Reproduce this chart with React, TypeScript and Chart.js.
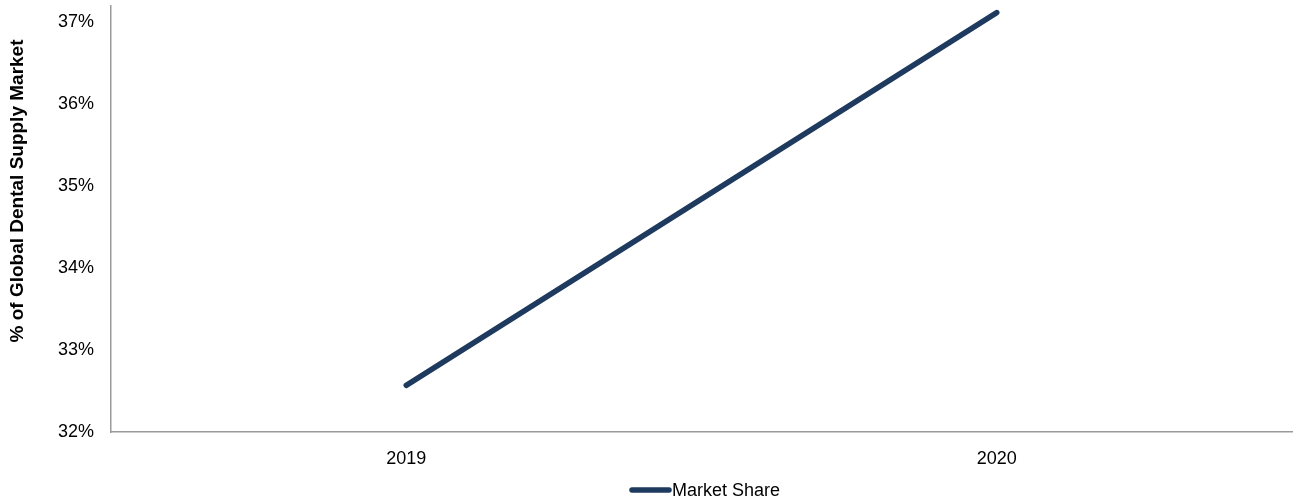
import React, { useEffect, useRef } from "react";
import { Chart, registerables } from "chart.js";

Chart.register(...registerables);

const categories = ["2019", "2020"];
const marketShare = [32.57, 37.12];
const seriesLabel = "Market Share";
const yTitle = "% of Global Dental Supply Market";
const yTickValues = [32, 33, 34, 35, 36, 37];
const yMin = 32;
const yMax = 37.2;

const LINE_COLOR = "#1F3A5F";
const AXIS_COLOR = "#9a9a9a";
const FONT = "'Liberation Sans', Arial, sans-serif";

const customPlugin = {
  id: "customDecor",
  afterDraw(chart: any) {
    const ctx = chart.ctx;
    ctx.save();
    // y-axis title
    ctx.translate(18, 191);
    ctx.rotate(-Math.PI / 2);
    ctx.font = `bold 19px ${FONT}`;
    ctx.fillStyle = "#000";
    ctx.textAlign = "center";
    ctx.textBaseline = "middle";
    ctx.fillText(yTitle, 0, 0);
    ctx.restore();

    // legend
    ctx.save();
    const ly = 490;
    ctx.strokeStyle = LINE_COLOR;
    ctx.lineWidth = 5.5;
    ctx.lineCap = "round";
    ctx.beginPath();
    ctx.moveTo(632, ly);
    ctx.lineTo(669, ly);
    ctx.stroke();
    ctx.font = `18px ${FONT}`;
    ctx.fillStyle = "#000";
    ctx.textAlign = "left";
    ctx.textBaseline = "middle";
    ctx.fillText(seriesLabel, 672, ly + 1);
    ctx.restore();
  },
};

export default function App() {
  const ref = useRef<HTMLCanvasElement>(null);
  useEffect(() => {
    if (!ref.current) return;
    const chart = new Chart(ref.current, {
      type: "line",
      data: {
        labels: categories,
        datasets: [
          {
            label: seriesLabel,
            data: marketShare,
            borderColor: LINE_COLOR,
            backgroundColor: LINE_COLOR,
            borderWidth: 5.5,
            borderCapStyle: "round",
            pointRadius: 0,
            tension: 0,
          },
        ],
      },
      options: {
        responsive: false,
        animation: false,
        layout: { padding: { left: 0, top: 6, right: 1, bottom: 29 }, autoPadding: false },
        plugins: {
          legend: { display: false },
          tooltip: { enabled: false },
        },
        scales: {
          x: {
            type: "category",
            offset: true,
            grid: { display: false, drawTicks: false },
            border: { display: true, color: AXIS_COLOR, width: 1.5 },
            ticks: {
              color: "#000",
              font: { family: FONT, size: 18 },
              padding: 16,
              maxRotation: 0,
            },
            afterFit(scale: any) {
              scale.height = 40;
              scale.paddingLeft = 0;
              scale.paddingRight = 0;
            },
          },
          y: {
            min: yMin,
            max: yMax,
            grid: { display: false, drawTicks: false },
            border: { display: true, color: AXIS_COLOR, width: 1.5 },
            ticks: {
              color: "#000",
              font: { family: FONT, size: 18 },
              padding: 17,
              callback: (v: any) => `${Math.round(Number(v))}%`,
            },
            afterBuildTicks(scale: any) {
              scale.ticks = yTickValues.map((v) => ({ value: v }));
            },
            afterFit(scale: any) {
              scale.width = 111;
              scale.paddingTop = 0;
              scale.paddingBottom = 0;
            },
          },
        },
      },
      plugins: [customPlugin],
    });
    return () => chart.destroy();
  }, []);
  return (
    <div style={{ position: "fixed", left: 0, top: 0, width: 1293, height: 501, background: "#fff" }}>
      <canvas ref={ref} width={1293} height={501} />
    </div>
  );
}
